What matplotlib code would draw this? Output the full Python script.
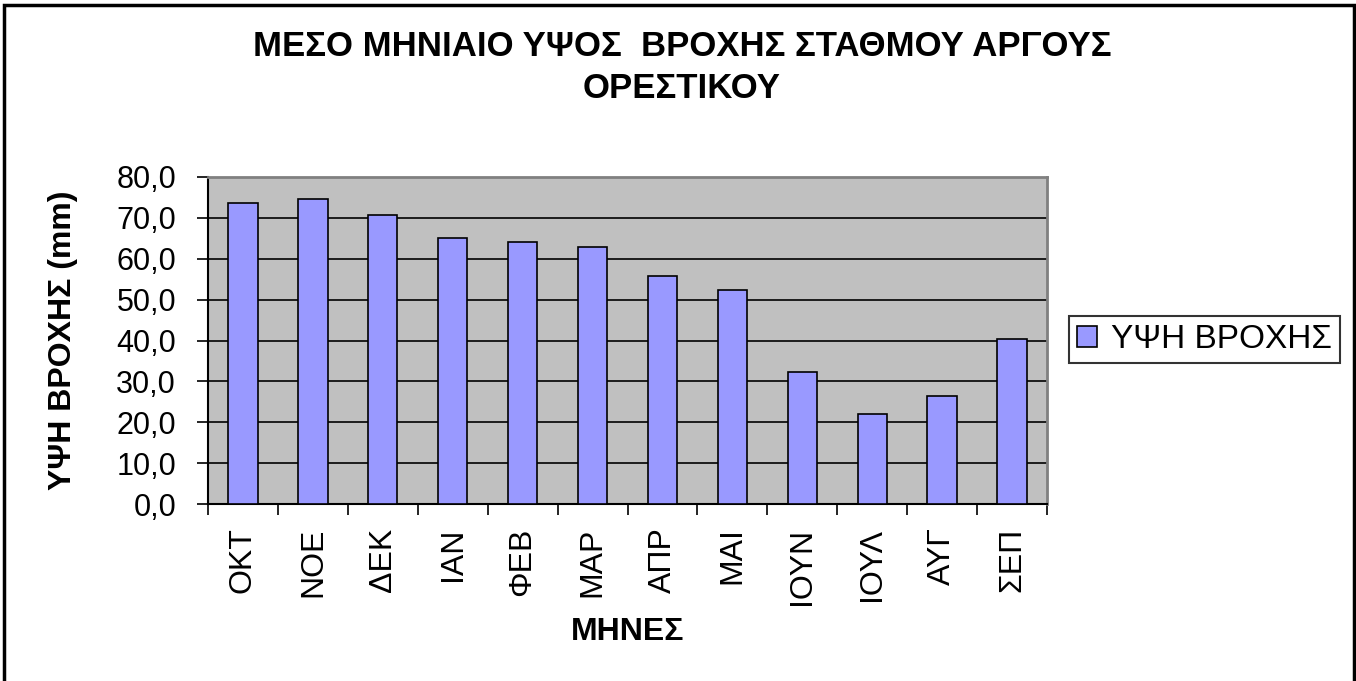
# Mean monthly rainfall, Argos Orestiko station
import matplotlib.pyplot as plt
from matplotlib.patches import Rectangle
from matplotlib.ticker import FuncFormatter, MultipleLocator

plt.rcParams['font.family'] = ['Liberation Sans', 'DejaVu Sans']

months = ['ΟΚΤ', 'ΝΟΕ', 'ΔΕΚ', 'ΙΑΝ', 'ΦΕΒ', 'ΜΑΡ', 'ΑΠΡ', 'ΜΑΙ', 'ΙΟΥΝ', 'ΙΟΥΛ', 'ΑΥΓ', 'ΣΕΠ']
rain = [73.6, 74.5, 70.7, 65.0, 64.0, 62.9, 55.7, 52.4, 32.2, 22.0, 26.3, 40.3]
series_name = 'ΥΨΗ ΒΡΟΧΗΣ'

W, H = 1356, 681
fig = plt.figure(figsize=(W / 100, H / 100), dpi=100)
ax = fig.add_axes([208 / W, 1 - 504 / H, (1047 - 208) / W, (504 - 177) / H])

ax.set_facecolor('#C0C0C0')
ax.set_axisbelow(True)
ax.grid(axis='y', color='black', linewidth=1.2)

x = range(len(months))
ax.bar(x, rain, width=0.42, color='#9999FF', edgecolor='black', linewidth=1.2,
       label=series_name, zorder=3)

ax.set_xlim(-0.5, len(months) - 0.5)
ax.set_ylim(0, 80)
ax.yaxis.set_major_locator(MultipleLocator(10))
ax.yaxis.set_major_formatter(FuncFormatter(lambda v, p: ('%.1f' % v).replace('.', ',')))

ax.set_xticks(list(x))
ax.set_xticklabels(months, rotation=90, fontsize=23)
ax.set_xticks([i - 0.5 for i in range(len(months) + 1)], minor=True)
ax.tick_params(axis='x', which='major', length=0, pad=17)
ax.tick_params(axis='x', which='minor', length=8, width=1.2, direction='out')
ax.tick_params(axis='y', length=8, width=1.2, direction='out', pad=15, labelsize=22)

for s in ['left', 'bottom']:
    ax.spines[s].set_color('black')
    ax.spines[s].set_linewidth(1.5)
for s in ['top', 'right']:
    ax.spines[s].set_color('#808080')
    ax.spines[s].set_linewidth(2)

# titles
fig.text(682 / W, 1 - 46 / H, 'ΜΕΣΟ ΜΗΝΙΑΙΟ ΥΨΟΣ  ΒΡΟΧΗΣ ΣΤΑΘΜΟΥ ΑΡΓΟΥΣ',
         ha='center', va='center', fontsize=25, fontweight='bold')
fig.text(682 / W, 1 - 89 / H, 'ΟΡΕΣΤΙΚΟΥ',
         ha='center', va='center', fontsize=25, fontweight='bold')
fig.text(63 / W, 1 - 340 / H, 'ΥΨΗ ΒΡΟΧΗΣ (mm)', rotation=90,
         ha='center', va='center', fontsize=23, fontweight='bold')
fig.text(628 / W, 1 - 632 / H, 'ΜΗΝΕΣ', ha='center', va='center',
         fontsize=23, fontweight='bold')

leg = ax.legend(loc='center left', bbox_to_anchor=(1069 / W, 1 - 339.5 / H),
                bbox_transform=fig.transFigure, fontsize=24, frameon=True,
                fancybox=False, borderaxespad=0, borderpad=0.25,
                handlelength=0.6, handleheight=0.6, handletextpad=0.4)
leg.get_frame().set_edgecolor('black')
leg.get_frame().set_linewidth(1.5)

# outer chart frame (bottom edge falls outside the picture)
fig.patches.append(Rectangle((4 / W, -0.05), (1354 - 4) / W, 1.05 - 5 / H,
                             transform=fig.transFigure, fill=False,
                             edgecolor='black', linewidth=2.5))

plt.savefig('out.png', dpi=100)
